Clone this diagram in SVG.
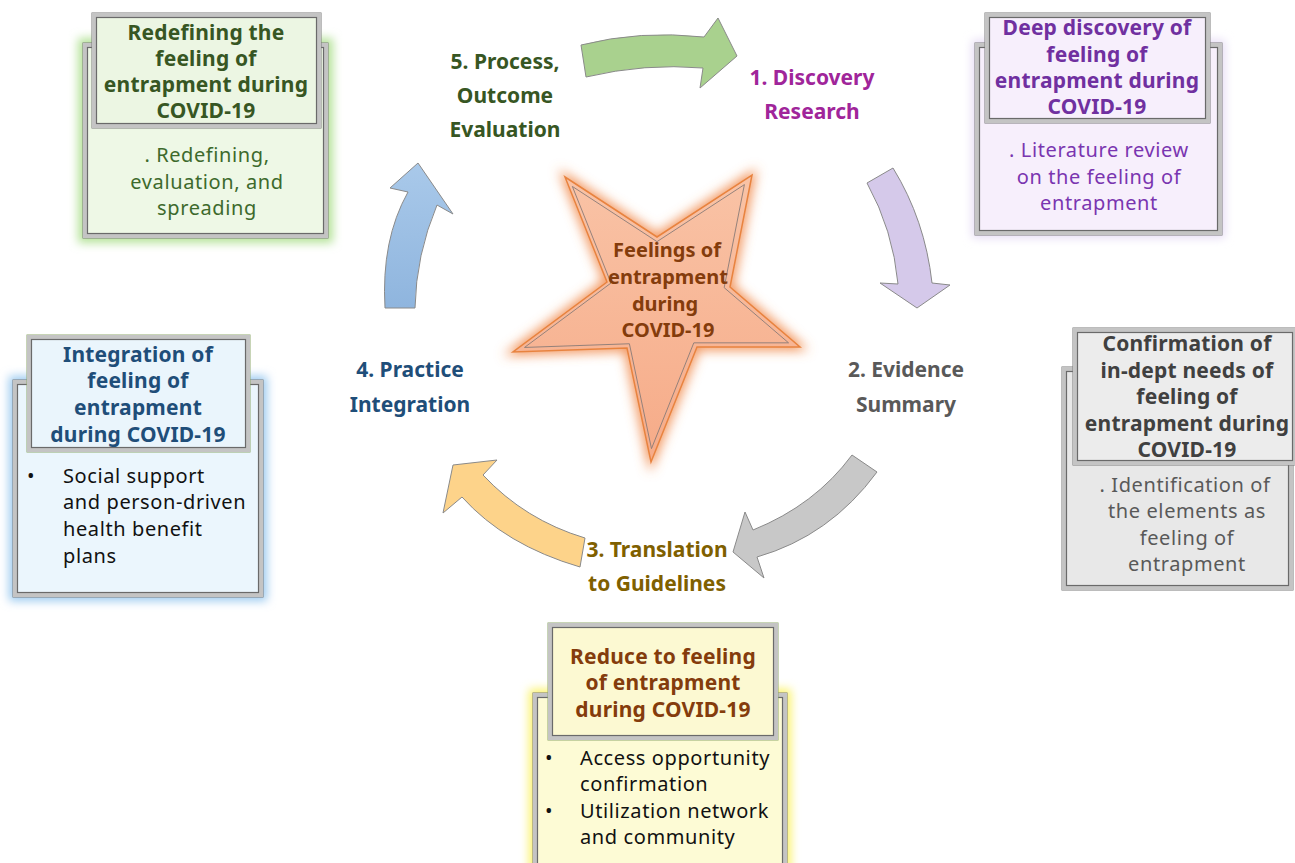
<svg xmlns="http://www.w3.org/2000/svg" width="1295" height="863" viewBox="0 0 1295 863">
<style>
text{font-family:"Noto Sans","Open Sans","DejaVu Sans",sans-serif}
.h{font-weight:bold;font-size:21px;text-anchor:middle;letter-spacing:0.2px}
.b{font-size:20px;letter-spacing:0.6px}
.c{text-anchor:middle}
.st{font-weight:bold;font-size:21px;text-anchor:middle}
.f1{fill:none;stroke:#7a7a7a;stroke-width:1}
.f2{fill:none;stroke:#c4c4c4;stroke-width:4}
.f3{fill:none;stroke:#6a6a6a;stroke-width:1.2}
.arr{stroke:#8a8a8a;stroke-width:1}
</style>
<defs>
<filter id="glow" x="-20%" y="-20%" width="140%" height="140%"><feGaussianBlur stdDeviation="5"/></filter>
<filter id="sglow" x="-20%" y="-20%" width="140%" height="140%"><feGaussianBlur stdDeviation="6"/></filter>
<linearGradient id="gBlue" x1="0" y1="0" x2="0" y2="1"><stop offset="0" stop-color="#a9c9ea"/><stop offset="1" stop-color="#8fb5de"/></linearGradient>
<linearGradient id="gStar" x1="0" y1="0" x2="0" y2="1"><stop offset="0" stop-color="#f9c3a6"/><stop offset="1" stop-color="#f6ab88"/></linearGradient>
</defs>
<rect width="1295" height="863" fill="#ffffff"/>

<g id="connectors">
<path class="arr" fill="#a9d18e" d="M581,45 Q640,30 704,37 L718,18 L737,56 L700,88 L703,68 Q645,63 586,77 Z"/>
<path class="arr" fill="#d5c9ea" d="M867,183 L893,168 Q925,220 932,283 L950,285 L917,308 L880,283 L898,284 Q893,230 867,183 Z"/>
<path class="arr" fill="#c8c8c8" d="M852,455 L877,472 Q830,536 757,557 L764,578 L733,552 L745,512 L753,530 Q815,505 852,455 Z"/>
<path class="arr" fill="#fdd38a" d="M585,538 L580,567 Q505,545 462,497 L443,513 L453,465 L497,460 L483,475 Q525,520 585,538 Z"/>
<path class="arr" fill="url(#gBlue)" d="M385,308 Q381,240 408,192 L390,188 L418,163 L453,214 L437,205 Q416,255 415,308 Z"/>
</g>

<g id="star">
<polygon points="565,177 657,237 752,175 730,287 800,347 697,347 651,462 627,348 513,352 607,282" fill="#f5a26f" filter="url(#sglow)" stroke="#f08a4b" stroke-width="6"/>
<polygon points="565,177 657,237 752,175 730,287 800,347 697,347 651,462 627,348 513,352 607,282" fill="url(#gStar)" stroke="#e8833f" stroke-width="1.5"/>
<polygon points="565,177 657,237 752,175 730,287 800,347 697,347 651,462 627,348 513,352 607,282" fill="none" stroke="#8c7c78" stroke-width="1" transform="translate(657 295) scale(0.92) translate(-657 -295)"/>
<g fill="#843c0c" class="st" style="font-size:20px">
<text x="667" y="257">Feelings of</text>
<text x="668" y="284">entrapment</text>
<text x="665" y="311">during</text>
<text x="668" y="337">COVID-19</text>
</g>
</g>

<g id="stage5" fill="#375623" class="st"><text x="505" y="69">5. Process,</text><text x="505" y="103">Outcome</text><text x="505" y="137">Evaluation</text></g>
<g id="stage1" fill="#a0259a" class="st"><text x="812" y="85">1. Discovery</text><text x="812" y="119">Research</text></g>
<g id="stage2" fill="#595959" class="st"><text x="906" y="377">2. Evidence</text><text x="906" y="412">Summary</text></g>
<g id="stage3" fill="#7f6000" class="st"><text x="657" y="557">3. Translation</text><text x="657" y="591">to Guidelines</text></g>
<g id="stage4" fill="#1f4e79" class="st"><text x="410" y="377">4. Practice</text><text x="410" y="412">Integration</text></g>

<g id="box-green">
<rect x="78" y="38" width="255" height="205" fill="#b6e39a" filter="url(#glow)"/>
<rect x="83" y="43" width="245" height="195" fill="#eef8e6"/>
<rect x="83" y="43" width="245" height="195" class="f1"/><rect x="85" y="45" width="241" height="191" class="f2"/><rect x="87.5" y="47.5" width="236" height="186" class="f3"/>
<rect x="92" y="13" width="229" height="115" fill="#ecf6e3"/>
<rect x="92" y="13" width="229" height="115" class="f1"/><rect x="94" y="15" width="225" height="111" class="f2"/><rect x="96.5" y="17.5" width="220" height="106" class="f3"/>
<g fill="#375623" class="h"><text x="206" y="40">Redefining the</text><text x="206" y="66">feeling of</text><text x="206" y="92">entrapment during</text><text x="206" y="118">COVID-19</text></g>
<g fill="#3d6a2c" class="b c"><text x="207" y="162">. Redefining,</text><text x="207" y="189">evaluation, and</text><text x="207" y="215">spreading</text></g>
</g>

<g id="box-purple">
<rect x="972" y="40" width="253" height="198" fill="#e6dcf5" filter="url(#glow)"/>
<rect x="975" y="43" width="247" height="192" fill="#f7effc"/>
<rect x="975" y="43" width="247" height="192" class="f1"/><rect x="977" y="45" width="243" height="188" class="f2"/><rect x="979.5" y="47.5" width="238" height="183" class="f3"/>
<rect x="985" y="13" width="225" height="110" fill="#f7effc"/>
<rect x="985" y="13" width="225" height="110" class="f1"/><rect x="987" y="15" width="221" height="106" class="f2"/><rect x="989.5" y="17.5" width="216" height="101" class="f3"/>
<g fill="#7030a0" class="h"><text x="1097" y="35">Deep discovery of</text><text x="1097" y="62">feeling of</text><text x="1097" y="88">entrapment during</text><text x="1097" y="114">COVID-19</text></g>
<g fill="#7a35b0" class="b c"><text x="1099" y="157">. Literature review</text><text x="1099" y="184">on the feeling of</text><text x="1099" y="210">entrapment</text></g>
</g>

<g id="box-blue">
<rect x="9" y="376" width="258" height="225" fill="#9ccaf0" filter="url(#glow)"/>
<rect x="13" y="380" width="250" height="217" fill="#ebf6fd"/>
<rect x="13" y="380" width="250" height="217" class="f1"/><rect x="15" y="382" width="246" height="213" class="f2"/><rect x="17.5" y="384.5" width="241" height="208" class="f3"/>
<rect x="27" y="335" width="223" height="117" fill="#eaf5fc"/>
<rect x="27" y="335" width="223" height="117" fill="none" stroke="#8faa6e" stroke-width="1"/><rect x="29" y="337" width="219" height="113" class="f2"/><rect x="31.5" y="339.5" width="214" height="108" class="f3"/>
<g fill="#1f4e79" class="h"><text x="138" y="362">Integration of</text><text x="138" y="388">feeling of</text><text x="138" y="415">entrapment</text><text x="138" y="442">during COVID-19</text></g>
<g fill="#111111" class="b"><text x="27" y="483">•</text><text x="63" y="483">Social support</text><text x="63" y="509">and person-driven</text><text x="63" y="536">health benefit</text><text x="63" y="563">plans</text></g>
</g>

<g id="box-gray">
<rect x="1062" y="367" width="231" height="223" fill="#e8e8e8"/>
<rect x="1062" y="367" width="231" height="223" class="f1"/><rect x="1064" y="369" width="227" height="219" class="f2"/><rect x="1066.5" y="371.5" width="222" height="214" class="f3"/>
<rect x="1073" y="328" width="224" height="137" fill="#ececec"/>
<rect x="1073" y="328" width="224" height="137" class="f1"/><rect x="1075" y="330" width="220" height="133" class="f2"/><rect x="1077.5" y="332.5" width="215" height="128" class="f3"/>
<g fill="#404040" class="h"><text x="1187" y="351">Confirmation of</text><text x="1187" y="378">in-dept needs of</text><text x="1187" y="404">feeling of</text><text x="1187" y="431">entrapment during</text><text x="1187" y="457">COVID-19</text></g>
<g fill="#595959" class="b c"><text x="1185" y="492">. Identification of</text><text x="1187" y="518">the elements as</text><text x="1187" y="545">feeling of</text><text x="1187" y="571">entrapment</text></g>
</g>

<g id="box-yellow">
<rect x="529" y="689" width="262" height="190" fill="#fbf36a" filter="url(#glow)"/>
<rect x="533" y="693" width="254" height="180" fill="#fdfbd5"/>
<rect x="533" y="693" width="254" height="180" class="f1"/><rect x="535" y="695" width="250" height="176" class="f2"/><rect x="537.5" y="697.5" width="245" height="171" class="f3"/>
<rect x="548" y="623" width="230" height="117" fill="#fcf9d2"/>
<rect x="548" y="623" width="230" height="117" fill="none" stroke="#8faa6e" stroke-width="1"/><rect x="550" y="625" width="226" height="113" class="f2"/><rect x="552.5" y="627.5" width="221" height="108" class="f3"/>
<g fill="#843c0c" class="h"><text x="663" y="664">Reduce to feeling</text><text x="663" y="690">of entrapment</text><text x="663" y="717">during COVID-19</text></g>
<g fill="#111111" class="b"><text x="545" y="765">•</text><text x="580" y="765">Access opportunity</text><text x="580" y="791">confirmation</text><text x="545" y="818">•</text><text x="580" y="818">Utilization network</text><text x="580" y="844">and community</text></g>
</g>
</svg>
